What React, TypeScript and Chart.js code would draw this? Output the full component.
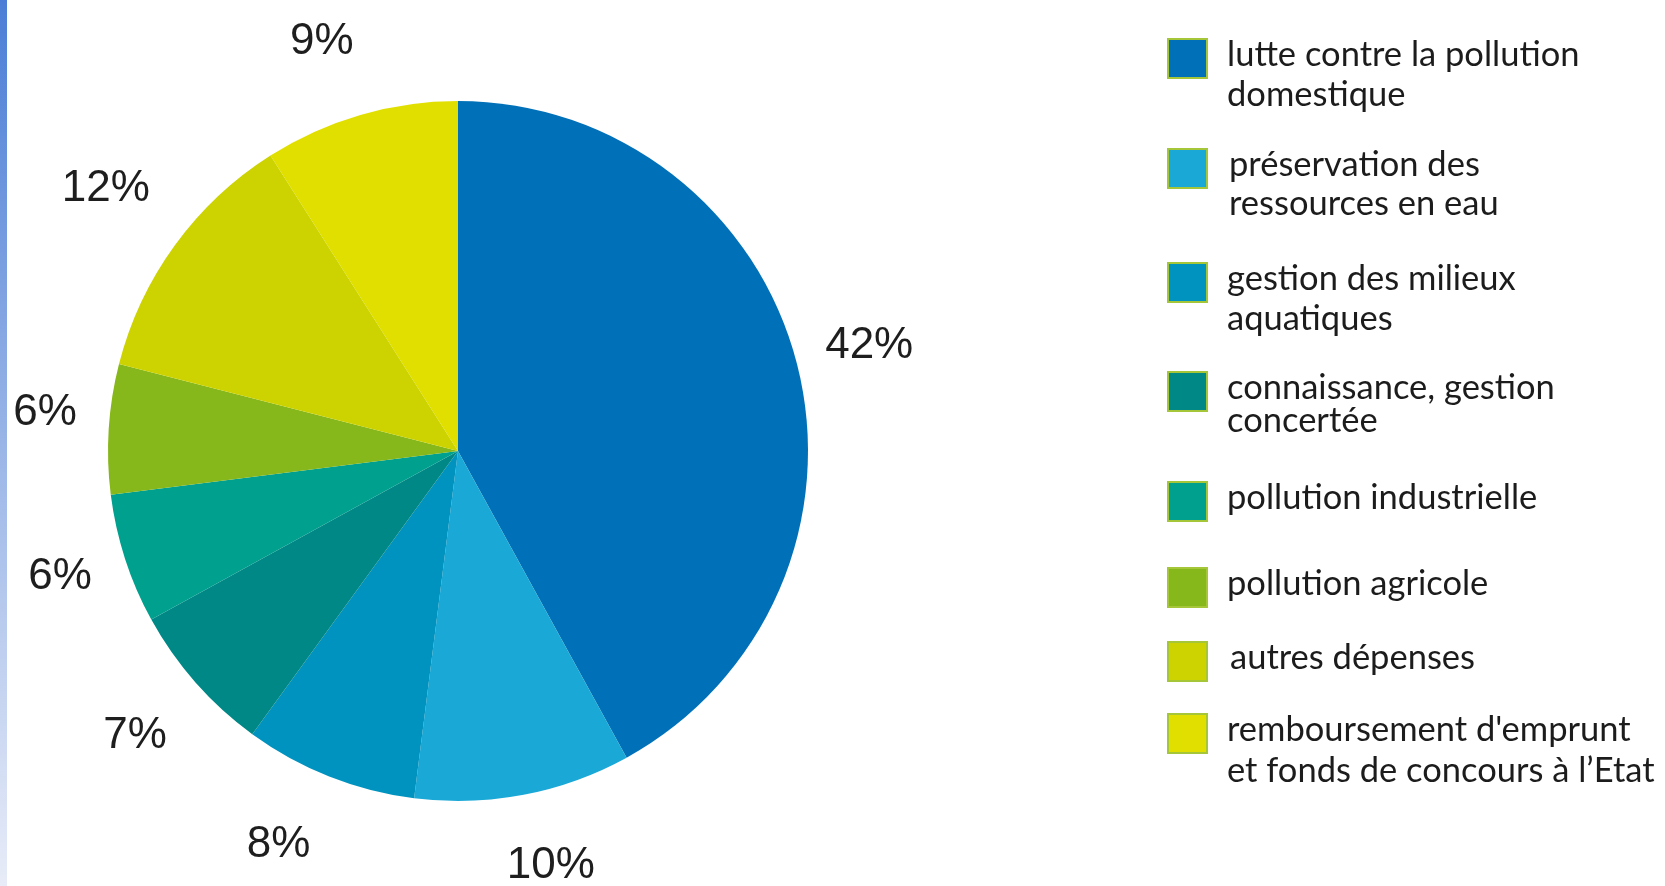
import React, { useEffect, useRef } from "react";
import { Chart, registerables } from "chart.js";

Chart.register(...registerables);

const CATEGORIES = [
  "lutte contre la pollution domestique",
  "préservation des ressources en eau",
  "gestion des milieux aquatiques",
  "connaissance, gestion concertée",
  "pollution industrielle",
  "pollution agricole",
  "autres dépenses",
  "remboursement d'emprunt et fonds de concours à l’Etat",
];
const LEGEND_LINES = [
  ["lutte contre la pollution", "domestique"],
  ["préservation des", "ressources en eau"],
  ["gestion des milieux", "aquatiques"],
  ["connaissance, gestion", "concertée"],
  ["pollution industrielle"],
  ["pollution agricole"],
  ["autres dépenses"],
  ["remboursement d'emprunt", "et fonds de concours à l’Etat"],
];
const VALUES = [42, 10, 8, 7, 6, 6, 12, 9];
const COLORS = ["#0070b8", "#1aa8d6", "#0093bf", "#008887", "#00a08f", "#86b71b", "#cdd300", "#e0df00"];

// layout (not data)
const LEGEND_TOPS = [38, 148, 262, 371, 481, 567, 641, 713];
const LEGEND_TEXT_DX = [0, 2, 0, 0, 0, 0, 3, 0];
const LEGEND_LINE_GAP = [40, 39, 40, 33, 0, 0, 0, 41];
const LABEL_DANGLE = [0, -1.8, 2.9, 0, 0.5, 1.7, 0.7, -2.2];
const LABEL_DIST = [1.213, 1.215, 1.236, 1.23, 1.192, 1.185, 1.255, 1.233];

const labelPlugin = {
  id: "pctLabels",
  afterDatasetsDraw(chart: any) {
    const ctx = chart.ctx;
    const meta = chart.getDatasetMeta(0);
    ctx.save();
    ctx.font = '44px "Liberation Sans", Arial, sans-serif';
    ctx.fillStyle = "#1e1e1e";
    ctx.textAlign = "center";
    ctx.textBaseline = "middle";
    meta.data.forEach((arc: any, i: number) => {
      const p = arc.getProps(["x", "y", "startAngle", "endAngle", "outerRadius"], true);
      const mid = (p.startAngle + p.endAngle) / 2 + (LABEL_DANGLE[i] * Math.PI) / 180;
      const d = p.outerRadius * LABEL_DIST[i];
      ctx.fillText(VALUES[i] + "%", p.x + Math.cos(mid) * d, p.y + Math.sin(mid) * d);
    });
    ctx.restore();
  },
};

export default function App() {
  const ref = useRef<HTMLCanvasElement | null>(null);
  useEffect(() => {
    document.body.style.margin = "0";
    const chart = new Chart(ref.current!, {
      type: "pie",
      data: {
        labels: CATEGORIES,
        datasets: [{ data: VALUES, backgroundColor: COLORS, borderWidth: 0 }],
      },
      options: {
        animation: false,
        responsive: false,
        maintainAspectRatio: false,
        layout: { padding: { left: 108, right: 857, top: 101, bottom: 85 } },
        plugins: { legend: { display: false }, tooltip: { enabled: false } },
      },
      plugins: [labelPlugin],
    });
    return () => chart.destroy();
  }, []);

  return (
    <div style={{ position: "relative", width: 1665, height: 886, background: "#fff", overflow: "hidden" }}>
      <div
        style={{
          position: "absolute",
          left: 0,
          top: 0,
          width: 7,
          height: 886,
          background: "linear-gradient(to bottom, #4a7ed6, #e8ecf8)",
        }}
      />
      <canvas ref={ref} width={1665} height={886} style={{ position: "absolute", left: 0, top: 0 }} />
      {LEGEND_LINES.map((lines, i) => (
        <div key={i} style={{ position: "absolute", left: 1167, top: LEGEND_TOPS[i] }}>
          <div
            style={{
              position: "absolute",
              left: 0,
              top: 0,
              width: 37,
              height: 37,
              background: COLORS[i],
              border: "2px solid #a6c63a",
            }}
          />
          {lines.map((l, j) => (
            <div
              key={j}
              style={{
                position: "absolute",
                left: 60 + LEGEND_TEXT_DX[i],
                top: -4 + j * LEGEND_LINE_GAP[i],
                whiteSpace: "nowrap",
                fontFamily: "Lato, sans-serif",
                fontSize: 34.5,
                lineHeight: "38px",
                color: "#1c1c1c",
              }}
            >
              {l}
            </div>
          ))}
        </div>
      ))}
    </div>
  );
}
